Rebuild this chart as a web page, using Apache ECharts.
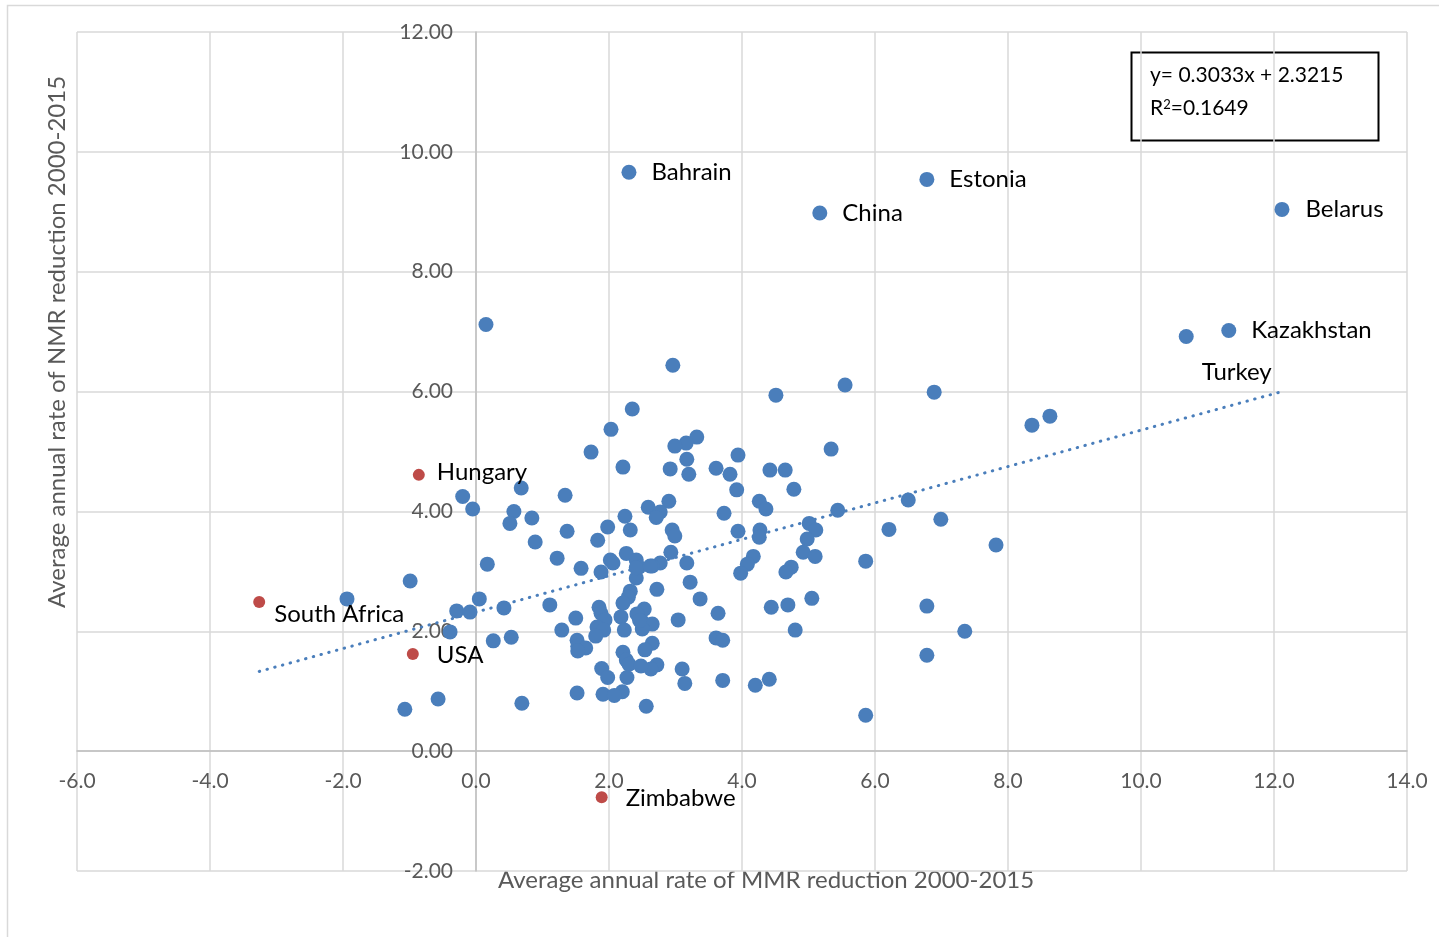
<!DOCTYPE html>
<html>
<head>
<meta charset="utf-8">
<title>NMR vs MMR reduction</title>
<script src="https://cdn.jsdelivr.net/npm/echarts@6/dist/echarts.min.js"></script>
<style>
  html, body { margin: 0; padding: 0; background: #fff; }
  #chart { width: 1439px; height: 937px; }
</style>
</head>
<body>
<div id="chart"></div>
<script>
// labelled countries (blue)
var namedNames = ['Bahrain', 'Estonia', 'China', 'Belarus', 'Kazakhstan', 'Turkey'];
var namedX = [2.30, 6.78, 5.17, 12.12, 11.32, 10.68];
var namedY = [9.66, 9.54, 8.98, 9.04, 7.02, 6.92];

// highlighted countries (red)
var redNames = ['Hungary', 'South Africa', 'USA', 'Zimbabwe'];
var redX = [-0.86, -3.26, -0.95, 1.89];
var redY = [4.61, 2.49, 1.62, -0.77];

// all other countries [MMR rate, NMR rate]
var otherPoints = [
  [0.15, 7.12], [2.96, 6.44], [5.55, 6.11], [6.89, 5.99], [4.51, 5.94], [2.35, 5.71],
  [8.63, 5.59], [8.36, 5.44], [2.03, 5.37], [3.32, 5.24], [3.16, 5.14], [2.99, 5.09],
  [5.34, 5.04], [3.94, 4.94], [1.73, 4.99], [3.17, 4.87], [2.21, 4.74], [3.61, 4.72],
  [2.92, 4.71], [3.82, 4.62], [3.20, 4.62], [4.42, 4.69], [4.65, 4.69], [3.92, 4.36],
  [4.78, 4.37], [0.68, 4.39], [-0.20, 4.25], [1.34, 4.27], [2.90, 4.17], [4.26, 4.17],
  [6.50, 4.19], [2.59, 4.07], [4.36, 4.04], [5.44, 4.02], [-0.05, 4.04], [0.57, 4.00],
  [2.77, 3.99], [3.73, 3.97], [2.24, 3.92], [0.84, 3.89], [2.71, 3.90], [6.99, 3.87],
  [0.51, 3.80], [5.01, 3.80], [5.11, 3.69], [6.21, 3.70], [2.95, 3.69], [1.98, 3.74],
  [1.37, 3.67], [2.32, 3.69], [3.94, 3.67], [4.27, 3.69], [2.99, 3.59], [4.26, 3.57],
  [4.98, 3.54], [0.89, 3.49], [1.83, 3.52], [7.82, 3.44], [2.26, 3.30], [2.93, 3.32],
  [4.92, 3.32], [5.10, 3.25], [4.17, 3.25], [1.22, 3.22], [2.02, 3.19], [2.41, 3.19],
  [5.86, 3.17], [0.17, 3.12], [3.17, 3.14], [2.06, 3.14], [2.77, 3.14], [4.08, 3.12],
  [1.58, 3.05], [2.65, 3.09], [2.45, 3.07], [4.74, 3.07], [4.66, 2.99], [3.98, 2.97],
  [1.88, 2.99], [2.41, 2.89], [-0.99, 2.84], [3.22, 2.82], [2.32, 2.67], [2.72, 2.70],
  [2.29, 2.57], [3.37, 2.54], [-1.94, 2.54], [0.05, 2.54], [5.05, 2.55], [2.21, 2.47],
  [1.11, 2.44], [2.53, 2.37], [1.85, 2.40], [0.42, 2.39], [4.44, 2.40], [4.69, 2.44],
  [6.78, 2.42], [-0.29, 2.34], [-0.09, 2.32], [1.88, 2.30], [2.42, 2.29], [3.64, 2.30],
  [2.18, 2.24], [3.04, 2.19], [1.50, 2.22], [1.94, 2.19], [2.51, 2.15], [2.65, 2.12],
  [1.82, 2.07], [1.92, 2.02], [2.23, 2.02], [2.50, 2.04], [1.29, 2.02], [4.80, 2.02],
  [7.35, 2.00], [-0.39, 1.99], [1.80, 1.92], [0.53, 1.90], [1.52, 1.85], [3.61, 1.89],
  [3.71, 1.85], [0.26, 1.84], [2.65, 1.80], [1.53, 1.75], [1.65, 1.72], [1.53, 1.67],
  [2.54, 1.69], [2.21, 1.65], [6.78, 1.60], [2.26, 1.52], [2.30, 1.45], [2.72, 1.44],
  [2.63, 1.37], [1.89, 1.38], [3.10, 1.37], [1.98, 1.23], [2.27, 1.23], [3.14, 1.13],
  [3.71, 1.18], [4.41, 1.20], [4.20, 1.10], [2.20, 0.99], [1.52, 0.97], [1.91, 0.95],
  [2.08, 0.93], [-0.57, 0.87], [0.69, 0.80], [2.56, 0.75], [-1.07, 0.70], [5.86, 0.60],
  [2.41, 3.06], [2.62, 3.09], [2.46, 2.18], [2.48, 1.42]
];

// linear trend end points (y= 0.3033x + 2.3215)
var trendX = [-3.26, 12.12];
var trendY = [1.33, 6.00];

var eqLines = ['y= 0.3033x + 2.3215', 'R{sup|2}=0.1649'];
var xTitle = 'Average annual rate of MMR reduction 2000-2015';
var yTitle = 'Average annual rate of NMR reduction 2000-2015';

var blue = '#4a7ebb';
var red = '#be4b48';
var font = 'Lato, "Open Sans", sans-serif';

// grid box, and where the axes cross (x=0, y=0) inside it
var gLeft = 77, gRight = 32, gTop = 32, gBottom = 66;
var yAxisShift = -399;   // pixels from grid left edge to x=0
var xAxisShift = -120;   // pixels from grid bottom edge to y=0

// label tweaks per country: [distance, dx, dy]
var labelTweak = {
  'Bahrain': [15, 0, 0], 'Estonia': [15, 0, 0], 'China': [15, 0, 0],
  'Belarus': [16, 0, 0], 'Kazakhstan': [15, 0, 0], 'Turkey': [8, 0, 36],
  'Hungary': [12, 0, -3], 'South Africa': [9, 0, 12], 'USA': [18, 0, 1],
  'Zimbabwe': [18, 0, 1]
};

function labelled(names, xs, ys) {
  var out = [];
  for (var i = 0; i < names.length; i++) {
    var t = labelTweak[names[i]];
    out.push({
      name: names[i],
      value: [xs[i], ys[i]],
      label: { distance: t[0], offset: [t[1], t[2]] }
    });
  }
  return out;
}

var trendData = [];
for (var i = 0; i < trendX.length; i++) trendData.push([trendX[i], trendY[i]]);

var chart = echarts.init(document.getElementById('chart'));
chart.setOption({
  animation: false,
  grid: { left: gLeft, right: gRight, top: gTop, bottom: gBottom },
  xAxis: {
    type: 'value', min: -6, max: 14, interval: 2,
    offset: xAxisShift,
    axisLine: { onZero: false, lineStyle: { color: '#bfbfbf', width: 1.5 } },
    axisTick: { show: false },
    axisLabel: {
      color: '#595959', fontSize: 21, fontFamily: font, margin: 20,
      formatter: function (v) { return v.toFixed(1); }
    },
    splitLine: { lineStyle: { color: '#d9d9d9', width: 1.5 } }
  },
  yAxis: {
    type: 'value', min: -2, max: 12, interval: 2,
    offset: yAxisShift,
    axisLine: { onZero: false, lineStyle: { color: '#bfbfbf', width: 1.5 } },
    axisTick: { show: false },
    axisLabel: {
      color: '#595959', fontSize: 21, fontFamily: font, margin: 23,
      formatter: function (v) { return v.toFixed(2); }
    },
    splitLine: { lineStyle: { color: '#d9d9d9', width: 1.5 } }
  },
  series: [
    {
      type: 'line', data: trendData, symbol: 'none', z: 1,
      lineStyle: { color: blue, width: 3, type: [0.5, 7.5], cap: 'round' }
    },
    {
      type: 'scatter', data: otherPoints, symbolSize: 15, z: 2,
      itemStyle: { color: blue, opacity: 1 }
    },
    {
      type: 'scatter', data: labelled(namedNames, namedX, namedY), symbolSize: 15, z: 2,
      itemStyle: { color: blue, opacity: 1 },
      label: {
        show: true, position: 'right', formatter: '{b}',
        color: '#000', fontSize: 24, fontFamily: font
      }
    },
    {
      type: 'scatter', data: labelled(redNames, redX, redY), symbolSize: 12, z: 3,
      itemStyle: { color: red, opacity: 1 },
      label: {
        show: true, position: 'right', formatter: '{b}',
        color: '#000', fontSize: 24, fontFamily: font
      }
    }
  ],
  graphic: [
    {
      type: 'rect', left: 5, top: 3, silent: true, z: -10,
      shape: { width: 1450, height: 950 },
      style: { fill: 'none', stroke: '#d9d9d9', lineWidth: 1.5 }
    },
    {
      type: 'rect', left: 1129, top: 50, silent: true,
      shape: { width: 247, height: 88 },
      style: { fill: 'none', stroke: '#000', lineWidth: 2 }
    },
    {
      type: 'text', left: 1150, top: 65, silent: true,
      style: { text: eqLines[0], fill: '#000', font: '21px ' + font }
    },
    {
      type: 'text', left: 1150, top: 98, silent: true,
      style: {
        text: eqLines[1], fill: '#000', font: '21px ' + font,
        rich: { sup: { fontSize: 13, verticalAlign: 'top', padding: [0, 0, 8, 0], fontFamily: font } }
      }
    },
    {
      type: 'text', left: 498, top: 868, silent: true,
      style: { text: xTitle, fill: '#595959', font: '24px ' + font }
    },
    {
      type: 'text', x: 57, y: 342, rotation: Math.PI / 2, silent: true,
      style: { text: yTitle, fill: '#595959', font: '24px ' + font, align: 'center', verticalAlign: 'middle' }
    }
  ]
});
</script>
</body>
</html>
